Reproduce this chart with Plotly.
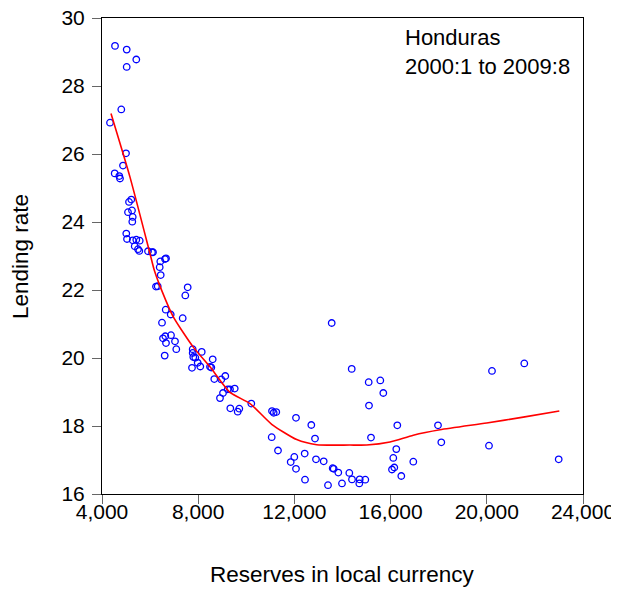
import plotly.graph_objects as go

# Scatter data: reserves in local currency (x) vs lending rate (y)
reserves = [4541, 5027, 5426, 5027, 4802, 4333, 4998, 4873, 4528, 4719, 4748, 5218, 5123, 5081, 5247,
            5277, 5260, 5010, 5040, 5277, 5426, 5568, 5360, 5497, 5551, 5913, 6079, 6121, 6661, 6620,
            6424, 6399, 6441, 6245, 6316, 7563, 7464, 6649, 6857, 7355, 6495, 6869, 6632, 6536, 7035,
            6661, 7089, 6607, 7771, 7771, 8146, 7796, 7879, 7742, 7979, 8087, 8603, 8491, 8545, 8669,
            8960, 9127, 9227, 9322, 9518, 9031, 8906, 9335, 9709, 9642, 10208, 11069, 11139, 11247, 11056,
            12066, 12703, 12857, 11318, 12428, 11996, 11846, 12066, 12898, 13218, 13592, 13634, 13825, 12441, 13397,
            13979, 14283, 13551, 14383, 15089, 15572, 15697, 15102, 16279, 15185, 17971, 18108, 20091, 20216, 21559,
            22989, 16237, 16112, 16944, 16154, 16058, 16445, 14395, 14715, 14699, 14948]
lending = [29.18, 29.07, 28.78, 28.56, 27.31, 26.92, 26.02, 25.66, 25.43, 25.35, 25.28, 24.66, 24.59, 24.29, 24.34,
           24.15, 24.01, 23.66, 23.50, 23.46, 23.48, 23.45, 23.29, 23.20, 23.15, 23.14, 23.11, 23.11, 22.93, 22.91,
           22.84, 22.67, 22.44, 22.10, 22.11, 22.08, 21.84, 21.42, 21.28, 21.17, 21.04, 20.67, 20.64, 20.58, 20.49,
           20.44, 20.26, 20.07, 20.26, 20.15, 20.18, 20.03, 20.01, 19.71, 19.86, 19.75, 19.96, 19.74, 19.72, 19.38,
           19.37, 19.47, 19.08, 19.08, 19.10, 18.97, 18.82, 18.52, 18.51, 18.42, 18.66, 18.44, 18.39, 18.41, 17.67,
           18.24, 18.03, 17.63, 17.28, 17.19, 17.09, 16.94, 16.74, 17.02, 16.96, 16.76, 16.74, 16.63, 16.42, 16.26,
           16.31, 16.62, 21.03, 19.68, 19.29, 19.34, 18.97, 18.60, 18.02, 17.66, 18.02, 17.52, 17.42, 19.62, 19.84,
           17.02, 17.32, 17.06, 16.95, 16.78, 16.72, 16.53, 16.43, 16.43, 16.31, 16.42]

# Nonparametric fit line
fit_x = [4374, 5164, 5996, 6175, 6482, 6965, 7796, 8491, 9322, 10154, 11056, 12096, 12927,
         14311, 15006, 15975, 16944, 18054, 19996, 21517, 23015]
fit_y = [27.19, 25.32, 23.07, 22.58, 21.99, 21.21, 20.32, 19.74, 18.99, 18.66, 18.05, 17.60, 17.45,
         17.44, 17.44, 17.53, 17.73, 17.89, 18.09, 18.26, 18.44]

x_ticks = [4000, 8000, 12000, 16000, 20000, 24000]
x_tick_labels = ["4,000", "8,000", "12,000", "16,000", "20,000", "24,000"]
y_ticks = [16, 18, 20, 22, 24, 26, 28, 30]

FONT = "Liberation Sans, Arial, sans-serif"

fig = go.Figure()
fig.add_trace(go.Scatter(
    x=reserves, y=lending, mode="markers",
    marker=dict(symbol="circle-open", size=6.5, color="#0000ff", line=dict(width=1.3, color="#0000ff")),
    showlegend=False, hoverinfo="skip"))
fig.add_trace(go.Scatter(
    x=fit_x, y=fit_y, mode="lines",
    line=dict(color="#ff0000", width=1.6, shape="spline", smoothing=0.6),
    showlegend=False, hoverinfo="skip"))

axis_common = dict(
    showgrid=False, zeroline=False, showline=True, linecolor="black", linewidth=1,
    mirror=True, ticks="outside", ticklen=9, tickwidth=1, tickcolor="#666666",
    automargin=False, ticklabeloverflow="allow",
    tickfont=dict(family=FONT, size=21, color="black"))

# The page body adds an 8px offset, so the figure is sized to fill the rest of the window.
fig.update_layout(
    width=611, height=584,
    margin=dict(l=94, r=36, t=10, b=98),
    paper_bgcolor="white", plot_bgcolor="white",
    font=dict(family=FONT, size=21, color="black"),
    xaxis=dict(range=[4000, 24000], tickvals=x_ticks, ticktext=x_tick_labels,
               ticklabelstandoff=-10, **axis_common),
    yaxis=dict(range=[16, 30], tickvals=y_ticks, ticklabelstandoff=3, **axis_common),
    annotations=[
        dict(text="Honduras<br>2000:1 to 2009:8", xref="paper", yref="paper", x=0.626, y=0.99,
             xanchor="left", yanchor="top", align="left", showarrow=False,
             font=dict(family=FONT, size=22, color="black")),
        dict(text="Reserves in local currency", xref="paper", yref="paper", x=0.5, y=-0.170,
             xanchor="center", yanchor="middle", showarrow=False,
             font=dict(family=FONT, size=22.5, color="black")),
        dict(text="Lending rate", xref="paper", yref="paper", x=-0.1705, y=0.5, textangle=-90,
             xanchor="center", yanchor="middle", showarrow=False,
             font=dict(family=FONT, size=22.5, color="black")),
    ],
)

fig.write_html("out.html")
